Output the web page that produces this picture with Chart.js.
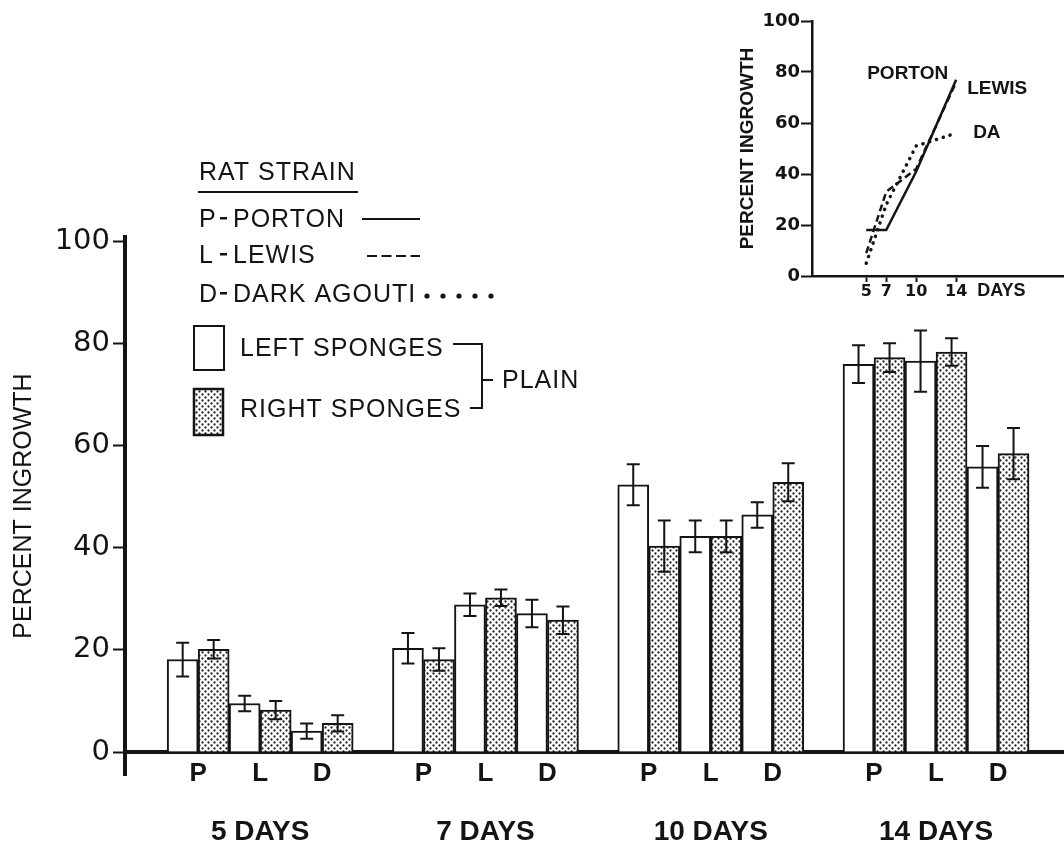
<!DOCTYPE html>
<html>
<head>
<meta charset="utf-8">
<title>Percent ingrowth by rat strain</title>
<script src="https://cdn.jsdelivr.net/npm/chart.js@4.4.1/dist/chart.umd.min.js"></script>
<style>
  html, body { margin: 0; padding: 0; background: #fff; }
  #wrap { position: relative; width: 1064px; height: 843px; }
  #main { position: absolute; left: 0; top: 0; }
  #inset { position: absolute; left: 730px; top: 0; }
</style>
</head>
<body>
<div id="wrap">
  <canvas id="main" width="1064" height="843"></canvas>
  <canvas id="inset" width="334" height="310"></canvas>
</div>
<script>
// Sponge ingrowth by rat strain - bar chart with a small line inset

const dayLabels = ['5 DAYS', '7 DAYS', '10 DAYS', '14 DAYS'];
const strainLetters = ['P', 'L', 'D'];
const strainNames = ['PORTON', 'LEWIS', 'DARK AGOUTI'];
const yTicks = [0, 20, 40, 60, 80, 100];

// mean percent ingrowth, one value per day group
const leftPorton  = [18.1, 20.3, 52.3, 75.9];
const rightPorton = [20.1, 18.1, 40.3, 77.2];
const leftLewis   = [9.5, 28.8, 42.2, 76.5];
const rightLewis  = [8.2, 30.2, 42.2, 78.3];
const leftDA      = [4.1, 27.1, 46.4, 55.8];
const rightDA     = [5.6, 25.8, 52.8, 58.4];

// half length of the error bars
const leftPortonErr  = [3.3, 3.0, 4.0, 3.7];
const rightPortonErr = [1.8, 2.2, 5.0, 2.8];
const leftLewisErr   = [1.5, 2.2, 3.1, 6.0];
const rightLewisErr  = [1.8, 1.6, 3.1, 2.7];
const leftDAErr      = [1.5, 2.7, 2.5, 4.1];
const rightDAErr     = [1.6, 2.7, 3.7, 5.0];

// inset: percent ingrowth against days
const insetDays = [5, 7, 10, 14];
const portonLine = [18, 18, 41, 77];
const lewisLine  = [9, 33, 42, 76];
const daLine     = [5, 28, 51, 56];
const insetNames = ['PORTON', 'LEWIS', 'DA'];
const insetYTicks = [0, 20, 40, 60, 80, 100];

const INK = '#141414';

function dotPattern(ctx) {
    const tile = document.createElement('canvas');
    tile.width = 6;
    tile.height = 6;
    const t = tile.getContext('2d');
    t.fillStyle = '#fff';
    t.fillRect(0, 0, 6, 6);
    t.fillStyle = '#222';
    [[1.5, 1.5], [4.5, 4.5]].forEach(([x, y]) => {
        t.beginPath();
        t.arc(x, y, 1.15, 0, Math.PI * 2);
        t.fill();
    });
    return ctx.createPattern(tile, 'repeat');
}

const mainCtx = document.getElementById('main').getContext('2d');
const dots = dotPattern(mainCtx);

// left / right pairs, in strain order P, L, D
const series = [
    { values: leftPorton,  err: leftPortonErr,  right: false },
    { values: rightPorton, err: rightPortonErr, right: true },
    { values: leftLewis,   err: leftLewisErr,   right: false },
    { values: rightLewis,  err: rightLewisErr,  right: true },
    { values: leftDA,      err: leftDAErr,      right: false },
    { values: rightDA,     err: rightDAErr,     right: true }
];

const datasets = series.map(s => ({
    data: s.values.map((v, i) => ({ x: i, y: v })),
    errors: s.err,
    backgroundColor: s.right ? dots : '#fff',
    borderColor: INK,
    borderWidth: 2,
    barThickness: 31
}));

// error bars drawn over every bar
const errorBars = {
    id: 'errorBars',
    afterDatasetsDraw(chart) {
        const { ctx } = chart;
        const y = chart.scales.y;
        ctx.save();
        ctx.strokeStyle = INK;
        ctx.lineWidth = 2;
        chart.data.datasets.forEach((ds, di) => {
            chart.getDatasetMeta(di).data.forEach((bar, i) => {
                const v = ds.data[i].y;
                const e = ds.errors[i];
                const top = y.getPixelForValue(v + e);
                const bot = y.getPixelForValue(v - e);
                ctx.beginPath();
                ctx.moveTo(bar.x, top);
                ctx.lineTo(bar.x, bot);
                ctx.moveTo(bar.x - 6.5, top);
                ctx.lineTo(bar.x + 6.5, top);
                ctx.moveTo(bar.x - 6.5, bot);
                ctx.lineTo(bar.x + 6.5, bot);
                ctx.stroke();
            });
        });
        ctx.restore();
    }
};

// P / L / D under each pair of bars
const strainTicks = {
    id: 'strainTicks',
    afterDraw(chart) {
        const { ctx } = chart;
        const base = chart.scales.y.getPixelForValue(0);
        ctx.save();
        ctx.fillStyle = INK;
        ctx.font = 'bold 26px "Liberation Sans", Arial, sans-serif';
        ctx.textAlign = 'center';
        ctx.textBaseline = 'middle';
        dayLabels.forEach((_, i) => {
            strainLetters.forEach((letter, s) => {
                const a = chart.getDatasetMeta(s * 2).data[i];
                const b = chart.getDatasetMeta(s * 2 + 1).data[i];
                ctx.fillText(letter, (a.x + b.x) / 2, base + 22);
            });
        });
        ctx.restore();
    }
};

// the key in the upper left
const keyBox = {
    id: 'keyBox',
    afterDraw(chart) {
        const { ctx } = chart;
        ctx.save();
        ctx.fillStyle = INK;
        ctx.strokeStyle = INK;
        ctx.font = '25px "Liberation Sans", Arial, sans-serif';
        ctx.letterSpacing = '1px';
        ctx.textBaseline = 'alphabetic';
        ctx.textAlign = 'left';

        ctx.fillText('RAT STRAIN', 199, 180);
        ctx.lineWidth = 2;
        ctx.beginPath();
        ctx.moveTo(198, 192);
        ctx.lineTo(358, 192);
        ctx.stroke();

        const rows = [227, 263, 302];
        strainLetters.forEach((letter, s) => {
            ctx.fillText(letter, 199, rows[s]);
            ctx.fillRect(220, rows[s] - 10, 7, 2.5);
            ctx.fillText(strainNames[s], 233, rows[s]);
        });

        // line samples for the inset
        ctx.lineWidth = 2;
        ctx.beginPath();
        ctx.moveTo(362, 219);
        ctx.lineTo(420, 219);
        ctx.stroke();
        ctx.setLineDash([10, 4.5]);
        ctx.beginPath();
        ctx.moveTo(367, 256);
        ctx.lineTo(420, 256);
        ctx.stroke();
        ctx.setLineDash([]);
        for (let k = 0; k < 5; k++) {
            ctx.beginPath();
            ctx.arc(427 + k * 16, 296, 2.6, 0, Math.PI * 2);
            ctx.fill();
        }

        // sponge boxes
        ctx.lineWidth = 2;
        ctx.fillStyle = '#fff';
        ctx.fillRect(194, 326, 30, 44);
        ctx.strokeRect(194, 326, 30, 44);
        ctx.fillStyle = dots;
        ctx.fillRect(194, 389, 29, 46);
        ctx.lineWidth = 2.5;
        ctx.strokeRect(194, 389, 29, 46);

        ctx.fillStyle = INK;
        ctx.fillText('LEFT SPONGES', 240, 356);
        ctx.fillText('RIGHT SPONGES', 240, 417);

        // bracket
        ctx.lineWidth = 2;
        ctx.beginPath();
        ctx.moveTo(453, 344);
        ctx.lineTo(482, 344);
        ctx.lineTo(482, 408);
        ctx.lineTo(470, 408);
        ctx.moveTo(482, 380);
        ctx.lineTo(493, 380);
        ctx.stroke();
        ctx.fillText('PLAIN', 502, 388);
        ctx.restore();
    }
};

new Chart(mainCtx, {
    type: 'bar',
    data: { datasets },
    options: {
        responsive: false,
        animation: false,
        layout: { padding: { top: 237, right: 0, bottom: 68, left: 0 } },
        plugins: {
            legend: { display: false },
            tooltip: { enabled: false }
        },
        scales: {
            x: {
                type: 'linear',
                offset: false,
                min: -0.6,
                max: 3.568,
                position: { y: 0 },
                grid: { display: false, offset: false },
                border: { color: INK, width: 4 },
                afterBuildTicks: scale => {
                    scale.ticks = dayLabels.map((_, i) => ({ value: i }));
                },
                ticks: {
                    callback: v => dayLabels[v],
                    font: { family: '"Liberation Sans", Arial, sans-serif', size: 28, weight: 'bold' },
                    color: INK,
                    padding: 55,
                    maxRotation: 0,
                    autoSkip: false
                }
            },
            y: {
                min: -4.5,
                max: 100.8,
                afterBuildTicks: scale => {
                    scale.ticks = yTicks.map(v => ({ value: v }));
                },
                afterFit: scale => { scale.width = 125; },
                grid: { drawOnChartArea: false, tickLength: 12, tickColor: INK, tickWidth: 2 },
                border: { color: INK, width: 4 },
                ticks: {
                    font: { family: '"DejaVu Sans", sans-serif', size: 29 },
                    color: INK,
                    padding: 3
                },
                title: {
                    display: true,
                    text: 'PERCENT INGROWTH',
                    font: { family: '"Liberation Sans", Arial, sans-serif', size: 25 },
                    color: INK,
                    padding: { top: 9, bottom: 0 }
                }
            }
        }
    },
    plugins: [errorBars, strainTicks, keyBox]
});

// labels at the end of each inset line, and the DAYS unit
const insetLabels = {
    id: 'insetLabels',
    afterDraw(chart) {
        const { ctx } = chart;
        const offsets = [
            { dx: -8, dy: -6, align: 'right' },
            { dx: 11, dy: 7, align: 'left' },
            { dx: 17, dy: 0, align: 'left' }
        ];
        ctx.save();
        ctx.fillStyle = INK;
        ctx.font = 'bold 19px "Liberation Sans", Arial, sans-serif';
        ctx.textBaseline = 'middle';
        insetNames.forEach((name, di) => {
            const pts = chart.getDatasetMeta(di).data;
            const last = pts[pts.length - 1];
            ctx.textAlign = offsets[di].align;
            ctx.fillText(name, last.x + offsets[di].dx, last.y + offsets[di].dy);
        });
        const xs = chart.scales.x;
        ctx.textAlign = 'left';
        ctx.font = 'bold 18px "Liberation Sans", Arial, sans-serif';
        ctx.fillText('DAYS', xs.getPixelForValue(insetDays[insetDays.length - 1]) + 21, xs.top + 15.5);
        ctx.restore();
    }
};

const insetCtx = document.getElementById('inset').getContext('2d');
const toPoints = values => insetDays.map((d, i) => ({ x: d, y: values[i] }));

new Chart(insetCtx, {
    type: 'line',
    data: {
        datasets: [
            { data: toPoints(portonLine), borderColor: INK, borderWidth: 2.5, pointRadius: 0 },
            { data: toPoints(lewisLine), borderColor: INK, borderWidth: 2.5, borderDash: [7, 4], pointRadius: 0 },
            { data: toPoints(daLine), borderColor: INK, borderWidth: 3.5, borderDash: [0.1, 7], borderCapStyle: 'round', pointRadius: 0 }
        ]
    },
    options: {
        responsive: false,
        animation: false,
        layout: { padding: { top: 21, right: 0, bottom: 0, left: 0 } },
        plugins: {
            legend: { display: false },
            tooltip: { enabled: false }
        },
        scales: {
            x: {
                type: 'linear',
                min: -0.43,
                max: 24.8,
                afterBuildTicks: scale => {
                    scale.ticks = insetDays.map(v => ({ value: v }));
                },
                afterFit: scale => { scale.height = 34; },
                grid: { drawOnChartArea: false, tickLength: 6, tickColor: INK, tickWidth: 2 },
                border: { color: INK, width: 2.5 },
                ticks: {
                    font: { family: '"DejaVu Sans", sans-serif', size: 16, weight: 'bold' },
                    color: INK,
                    padding: 0,
                    maxRotation: 0,
                    autoSkip: false
                }
            },
            y: {
                min: 0,
                max: 100,
                afterBuildTicks: scale => {
                    scale.ticks = insetYTicks.map(v => ({ value: v }));
                },
                afterFit: scale => { scale.width = 82; },
                grid: { drawOnChartArea: false, tickLength: 11, tickColor: INK, tickWidth: 2 },
                border: { color: INK, width: 2.5 },
                ticks: {
                    font: { family: '"DejaVu Sans", sans-serif', size: 18, weight: 'bold' },
                    color: INK,
                    padding: 1
                },
                title: {
                    display: true,
                    text: 'PERCENT INGROWTH',
                    font: { family: '"Liberation Sans", Arial, sans-serif', size: 19, weight: 'bold' },
                    color: INK,
                    padding: { top: 6, bottom: 0 }
                }
            }
        }
    },
    plugins: [insetLabels]
});
</script>
</body>
</html>
